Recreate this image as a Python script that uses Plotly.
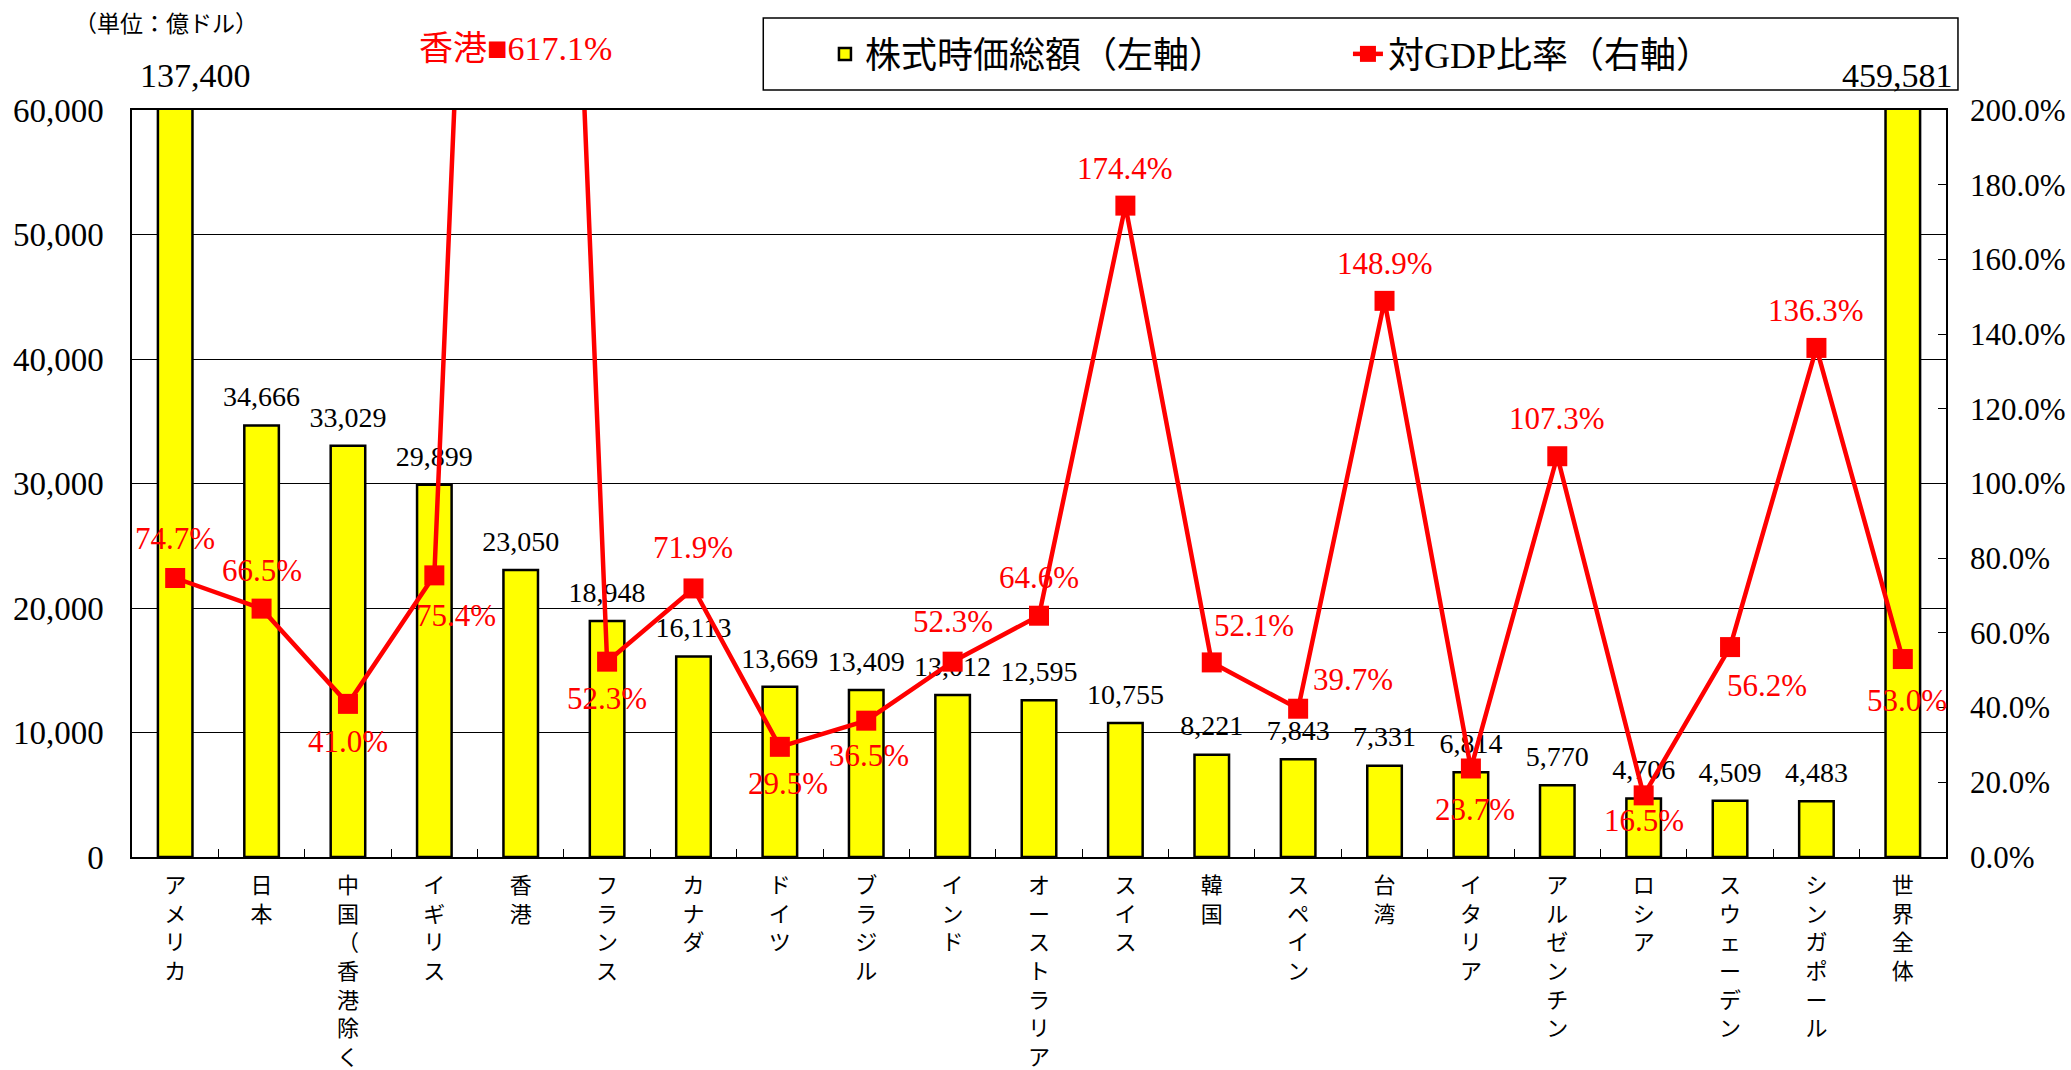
import plotly.graph_objects as go

# ---------------- data ----------------
categories = ["アメリカ", "日本", "中国（香港除く）", "イギリス", "香港", "フランス", "カナダ",
              "ドイツ", "ブラジル", "インド", "オーストラリア", "スイス", "韓国", "スペイン",
              "台湾", "イタリア", "アルゼンチン", "ロシア", "スウェーデン", "シンガポール", "世界全体"]
market_cap = [137400, 34666, 33029, 29899, 23050, 18948, 16113, 13669, 13409, 13012, 12595,
              10755, 8221, 7843, 7331, 6814, 5770, 4706, 4509, 4483, 459581]
gdp_ratio = [74.7, 66.5, 41.0, 75.4, 617.1, 52.3, 71.9, 29.5, 36.5, 52.3, 64.6,
             174.4, 52.1, 39.7, 148.9, 23.7, 107.3, 16.5, 56.2, 136.3, 53.0]
left_ticks = [0, 10000, 20000, 30000, 40000, 50000, 60000]
right_ticks = [0, 20, 40, 60, 80, 100, 120, 140, 160, 180, 200]

LEFT_MAX = 60000
RIGHT_MAX = 200

# label offsets (px) for the ratio labels: (xshift, yshift)
ratio_label_offsets = [(0, 40), (0, 38), (0, -38), (22, -40), (0, 0), (0, -37), (0, 41),
                       (8, -37), (3, -35), (0, 40), (0, 38), (0, 37), (42, 37), (55, 29),
                       (0, 37), (4, -41), (0, 38), (0, -25), (37, -38), (0, 37), (4, -41)]
# x shift (px) of the value label of bars that run off the top of the axis
clipped_label_xshift = {"アメリカ": 20, "世界全体": -5}

FONT = "Liberation Serif, Noto Sans CJK JP"
CJK = "Noto Sans CJK JP"

tick_text = ["<br>".join(list(c)) for c in categories]

fig = go.Figure()

fig.add_trace(go.Bar(
    x=categories, y=market_cap, name="株式時価総額（左軸）",
    marker=dict(color="#FFFF00", line=dict(color="#000000", width=2.5)),
    width=0.4, yaxis="y", hoverinfo="x+y",
))

# bar value labels (drawn below the ratio line)
fig.add_trace(go.Scatter(
    x=categories, y=[min(v, LEFT_MAX) for v in market_cap],
    mode="markers+text", text=[f"{v:,}" if v <= LEFT_MAX else "" for v in market_cap],
    textposition="top center",
    textfont=dict(family=FONT, size=28, color="#000000"),
    marker=dict(size=18, opacity=0), showlegend=False, cliponaxis=False,
    hoverinfo="skip", yaxis="y",
))

fig.add_trace(go.Scatter(
    x=categories, y=gdp_ratio, name="対GDP比率（右軸）", yaxis="y2",
    mode="lines+markers",
    line=dict(color="#FF0000", width=4.5),
    marker=dict(symbol="square", size=20, color="#FF0000"),
))

annotations = []
for c, v in zip(categories, market_cap):
    if v > LEFT_MAX:
        annotations.append(dict(
            x=c, xref="x", y=LEFT_MAX, yref="y", text=f"{v:,}", showarrow=False,
            xshift=clipped_label_xshift.get(c, 0), yshift=14,
            font=dict(family=FONT, size=34, color="#000000"),
            xanchor="center", yanchor="bottom"))

for c, v, (dx, dy) in zip(categories, gdp_ratio, ratio_label_offsets):
    if v > RIGHT_MAX:
        annotations.append(dict(
            x=c, xref="x", y=1.082, yref="paper", text=f"{c}■{v:.1f}%",
            showarrow=False, xshift=-5,
            font=dict(family=FONT, size=34, color="#FF0000"),
            xanchor="center", yanchor="middle"))
        continue
    annotations.append(dict(
        x=c, xref="x", y=v, yref="y2", text=f"{v:.1f}%", showarrow=False,
        xshift=dx, yshift=dy, font=dict(family=FONT, size=31, color="#FF0000"),
        xanchor="center", yanchor="middle"))

annotations.append(dict(
    x=0.0187, y=1.118, xref="paper", yref="paper", text="（単位：億ドル）",
    showarrow=False, font=dict(family=CJK, size=23, color="#000000"),
    xanchor="center", yanchor="middle"))

fig.update_layout(
    width=2071, height=1070,
    margin=dict(l=132, r=125, t=110, b=213, autoexpand=False),
    paper_bgcolor="#FFFFFF", plot_bgcolor="#FFFFFF",
    font=dict(family=FONT, size=30, color="#000000"),
    showlegend=True,
    legend=dict(orientation="h", x=0.382, xanchor="left", y=1.075, yanchor="middle",
                font=dict(family=FONT, size=36, color="#000000"),
                bgcolor="rgba(0,0,0,0)", borderwidth=0, entrywidth=478,
                traceorder="normal"),
    annotations=annotations,
    shapes=[dict(type="rect", xref="paper", yref="paper",
                 x0=0.348, x1=1.0066, y0=1.0268, y1=1.1232,
                 line=dict(color="#000000", width=1.5), fillcolor="#FFFFFF", layer="below")],
    xaxis=dict(
        type="category", range=[-0.5, len(categories) - 0.5],
        tickmode="array", tickvals=categories, ticktext=tick_text,
        tickfont=dict(family=CJK, size=22, color="#000000"),
        ticks="inside", tickson="boundaries", ticklen=8, tickcolor="#000000",
        showline=True, linecolor="#000000", linewidth=1.5, mirror=True,
        showgrid=False, automargin=False, ticklabelstandoff=8,
    ),
    yaxis=dict(
        range=[0, LEFT_MAX], tickmode="array", tickvals=left_ticks,
        ticktext=[f"{t:,}" for t in left_ticks],
        tickfont=dict(family=FONT, size=33, color="#000000"),
        ticks="inside", ticklen=8, tickcolor="#000000",
        showline=True, linecolor="#000000", linewidth=1.5,
        showgrid=True, gridcolor="#000000", gridwidth=1, zeroline=False,
        automargin=False, ticklabelstandoff=20,
    ),
    yaxis2=dict(
        range=[0, RIGHT_MAX], overlaying="y", side="right", tickmode="array",
        tickvals=right_ticks, ticktext=[f"{t:.1f}%" for t in right_ticks],
        tickfont=dict(family=FONT, size=31, color="#000000"),
        ticks="inside", ticklen=8, tickcolor="#000000",
        showline=True, linecolor="#000000", linewidth=1.5,
        showgrid=False, zeroline=False, automargin=False, ticklabelstandoff=16,
    ),
)

fig.write_html("out.html", config={"displayModeBar": False},
               post_script="document.body.style.margin='0';")
